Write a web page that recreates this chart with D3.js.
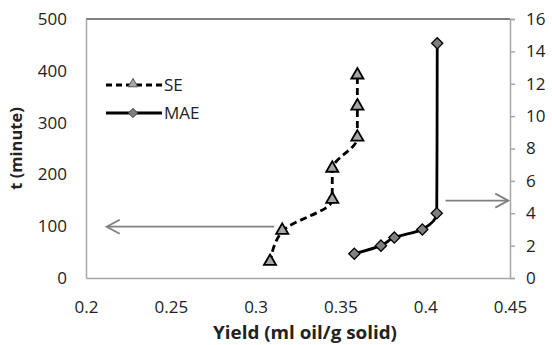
<!DOCTYPE html>
<html>
<head>
<meta charset="utf-8">
<script src="https://cdn.jsdelivr.net/npm/d3@7"></script>
<style>
  body { margin: 0; background: #fff; }
  text { font-family: "Open Sans", sans-serif; fill: #222; }
</style>
</head>
<body>
<svg id="chart" width="552" height="345"></svg>
<script>
// SE series (left axis: t in minutes)
const seYield = [0.3085, 0.3157, 0.3452, 0.3452, 0.36, 0.36, 0.36];
const seTime = [30, 90, 150, 210, 270, 330, 390];
// MAE series (right axis: t in minutes, 0-16)
const maeYield = [0.3582, 0.3739, 0.3818, 0.3983, 0.4068, 0.4071];
const maeTime = [1.5, 2, 2.5, 3, 4, 14.5];

const xTicks = [0.2, 0.25, 0.3, 0.35, 0.4, 0.45];
const yLeftTicks = [0, 100, 200, 300, 400, 500];
const yRightTicks = [0, 2, 4, 6, 8, 10, 12, 14, 16];

const svg = d3.select("#chart");
const margin = {left: 86, right: 42, top: 19, bottom: 67};
const width = 552 - margin.left - margin.right;
const height = 345 - margin.top - margin.bottom;

const x = d3.scaleLinear().domain([0.2, 0.45]).range([margin.left, margin.left + width]);
const yL = d3.scaleLinear().domain([0, 500]).range([margin.top + height, margin.top]);
const yR = d3.scaleLinear().domain([0, 16]).range([margin.top + height, margin.top]);

// top border
svg.append("line")
  .attr("x1", x(0.2)).attr("x2", x(0.45))
  .attr("y1", yL(500)).attr("y2", yL(500))
  .attr("stroke", "#000").attr("stroke-width", 1);

// bottom axis
const gx = svg.append("g")
  .attr("transform", "translate(0," + yL(0) + ")")
  .call(d3.axisBottom(x).tickValues(xTicks).tickSize(0).tickPadding(23)
    .tickFormat(d => String(+d.toFixed(2))));
gx.select(".domain").attr("stroke", "#a6a6a6").attr("stroke-width", 1.5);

// left axis
const gl = svg.append("g")
  .attr("transform", "translate(" + x(0.2) + ",0)")
  .call(d3.axisLeft(yL).tickValues(yLeftTicks).tickSize(0).tickPadding(19));
gl.select(".domain").attr("stroke", "#a6a6a6").attr("stroke-width", 1.5);

// right axis
const gr = svg.append("g")
  .attr("transform", "translate(" + x(0.45) + ",0)")
  .call(d3.axisRight(yR).tickValues(yRightTicks).tickSize(5).tickSizeOuter(5).tickPadding(11));
gr.select(".domain").attr("stroke", "#a6a6a6").attr("stroke-width", 1.5);
gr.selectAll(".tick line").attr("stroke", "#a6a6a6").attr("stroke-width", 1.5);

svg.selectAll(".tick text")
  .attr("font-family", "Open Sans")
  .attr("font-size", 17)
  .attr("fill", "#222");

// axis titles
svg.append("text")
  .attr("transform", "translate(22," + yL(250) + ") rotate(-90)")
  .attr("text-anchor", "middle")
  .attr("font-size", 16.5).attr("font-weight", "bold")
  .text("t (minute)");

svg.append("text")
  .attr("x", 305).attr("y", 339)
  .attr("text-anchor", "middle")
  .attr("font-size", 17).attr("font-weight", "bold")
  .attr("textLength", 184).attr("lengthAdjust", "spacingAndGlyphs")
  .text("Yield (ml oil/g solid)");

// arrows pointing to the axes
function arrow(x1, x2, yy) {
  svg.append("line")
    .attr("x1", x1).attr("x2", x2).attr("y1", yy).attr("y2", yy)
    .attr("stroke", "#808080").attr("stroke-width", 1.8);
  const dir = x2 < x1 ? 1 : -1;
  svg.append("path")
    .attr("d", "M" + (x2 + dir * 13) + "," + (yy - 7) + "L" + x2 + "," + yy + "L" + (x2 + dir * 13) + "," + (yy + 7))
    .attr("fill", "none").attr("stroke", "#808080").attr("stroke-width", 1.8);
}
arrow(x(0.311), x(0.2122), yL(99));
arrow(x(0.412), x(0.449), yR(4.78));

const curve = d3.curveMonotoneY;

// SE
const seData = seYield.map((v, i) => [v, seTime[i]]);
svg.append("path")
  .datum(seData)
  .attr("fill", "none").attr("stroke", "#000").attr("stroke-width", 2.8)
  .attr("stroke-dasharray", "7,4")
  .attr("d", d3.line().x(d => x(d[0])).y(d => yL(d[1])).curve(curve));

const tri = d3.symbol().type(d3.symbolTriangle).size(64);
svg.selectAll(".se")
  .data(seData)
  .enter().append("path")
  .attr("class", "se")
  .attr("transform", d => "translate(" + x(d[0]) + "," + (yL(d[1]) - 1) + ")")
  .attr("d", tri)
  .attr("fill", "#a6a6a6").attr("stroke", "#000").attr("stroke-width", 1.8);

// MAE
const maeData = maeYield.map((v, i) => [v, maeTime[i]]);
svg.append("path")
  .datum(maeData)
  .attr("fill", "none").attr("stroke", "#000").attr("stroke-width", 2.8)
  .attr("d", d3.line().x(d => x(d[0])).y(d => yR(d[1])).curve(curve));

const dia = d3.symbol().type(d3.symbolDiamond2).size(80);
svg.selectAll(".mae")
  .data(maeData)
  .enter().append("path")
  .attr("class", "mae")
  .attr("transform", d => "translate(" + x(d[0]) + "," + yR(d[1]) + ")")
  .attr("d", dia)
  .attr("fill", "#7f7f7f").attr("stroke", "#000").attr("stroke-width", 1.3);

// legend
const legend = svg.append("g");
const legTri = d3.symbol().type(d3.symbolTriangle).size(40);
const legDia = d3.symbol().type(d3.symbolDiamond2).size(55);
const legItems = [
  {name: "SE", dash: "6,4", sym: legTri, fill: "#a6a6a6", y: 85},
  {name: "MAE", dash: null, sym: legDia, fill: "#7f7f7f", y: 113}
];
legItems.forEach(function(it) {
  legend.append("line")
    .attr("x1", 106).attr("x2", 162).attr("y1", it.y).attr("y2", it.y)
    .attr("stroke", "#000").attr("stroke-width", 2.8)
    .attr("stroke-dasharray", it.dash);
  legend.append("path")
    .attr("transform", "translate(133," + (it.name === "SE" ? it.y - 1 : it.y) + ")")
    .attr("d", it.sym)
    .attr("fill", it.fill).attr("stroke", it.name === "SE" ? "#555" : "#444").attr("stroke-width", 1);
  legend.append("text")
    .attr("x", 164).attr("y", it.y + 6)
    .attr("font-size", 17)
    .text(it.name);
});
</script>
</body>
</html>
